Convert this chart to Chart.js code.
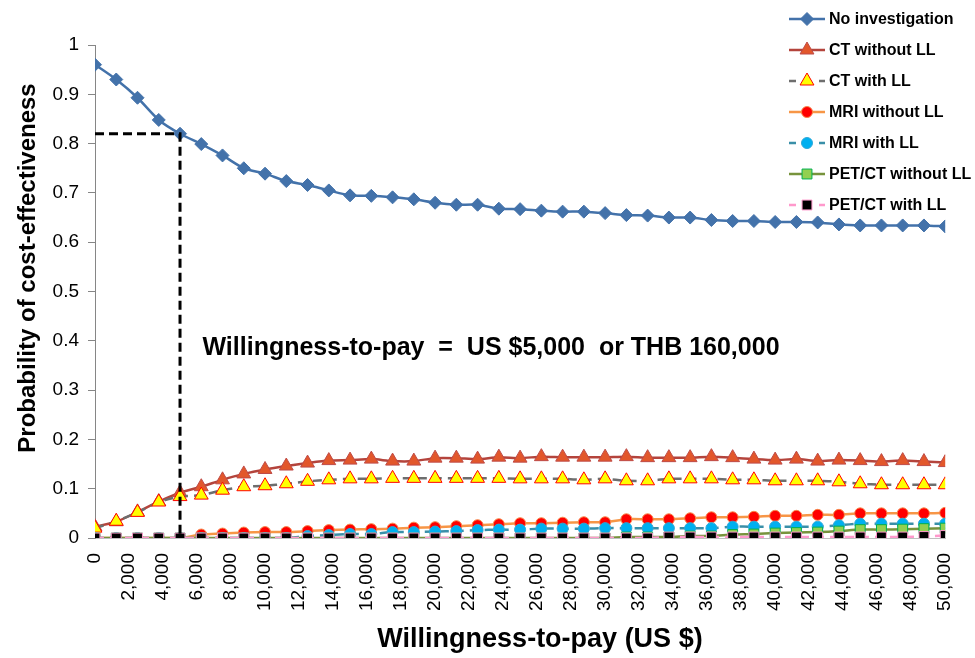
<!DOCTYPE html>
<html>
<head>
<meta charset="utf-8">
<title>Probability of cost-effectiveness</title>
<script src="https://cdn.jsdelivr.net/npm/chart.js@4.4.0/dist/chart.umd.min.js"></script>
<style>
    body { margin: 0; background: #ffffff; }
    canvas { display: block; }
</style>
</head>
<body>
<canvas id="grafica" width="975" height="658"></canvas>
<script type="text/javascript">

    // Willingness-to-pay (US $), one point every THB 40,000
    var wtp = [0, 1250, 2500, 3750, 5000, 6250, 7500, 8750, 10000, 11250,
        12500, 13750, 15000, 16250, 17500, 18750, 20000, 21250, 22500, 23750,
        25000, 26250, 27500, 28750, 30000, 31250, 32500, 33750, 35000, 36250,
        37500, 38750, 40000, 41250, 42500, 43750, 45000, 46250, 47500, 48750, 50000]

    var noInvestigation = [0.960, 0.930, 0.893, 0.848, 0.820, 0.799, 0.776, 0.750, 0.739, 0.724,
        0.716, 0.705, 0.695, 0.694, 0.691, 0.687, 0.680, 0.676, 0.676, 0.668,
        0.667, 0.664, 0.662, 0.662, 0.659, 0.655, 0.654, 0.650, 0.650, 0.645,
        0.643, 0.643, 0.641, 0.641, 0.640, 0.636, 0.634, 0.634, 0.634, 0.634, 0.632]

    var ctWithoutLL = [0.023, 0.033, 0.053, 0.074, 0.092, 0.104, 0.118, 0.130, 0.139, 0.146,
        0.152, 0.157, 0.158, 0.160, 0.156, 0.156, 0.162, 0.162, 0.160, 0.164,
        0.162, 0.165, 0.164, 0.164, 0.164, 0.165, 0.163, 0.163, 0.163, 0.165,
        0.163, 0.160, 0.158, 0.160, 0.156, 0.158, 0.157, 0.155, 0.157, 0.155, 0.153]

    var ctWithLL = [0.020, 0.034, 0.052, 0.073, 0.084, 0.087, 0.097, 0.104, 0.106, 0.110,
        0.115, 0.118, 0.120, 0.120, 0.121, 0.121, 0.121, 0.121, 0.121, 0.121,
        0.120, 0.120, 0.120, 0.118, 0.120, 0.116, 0.116, 0.120, 0.120, 0.120,
        0.118, 0.118, 0.116, 0.116, 0.116, 0.114, 0.110, 0.108, 0.108, 0.108, 0.108]

    var mriWithoutLL = [0, 0, 0, 0, 0, 0.007, 0.009, 0.011, 0.012, 0.012,
        0.014, 0.016, 0.017, 0.018, 0.019, 0.021, 0.022, 0.024, 0.026, 0.028,
        0.030, 0.030, 0.031, 0.032, 0.032, 0.038, 0.038, 0.038, 0.040, 0.042,
        0.042, 0.043, 0.045, 0.045, 0.047, 0.047, 0.050, 0.050, 0.050, 0.050, 0.051]

    var mriWithLL = [0, 0, 0, 0, 0, 0, 0, 0, 0, 0,
        0.004, 0.006, 0.008, 0.008, 0.012, 0.012, 0.013, 0.014, 0.016, 0.017,
        0.017, 0.019, 0.019, 0.019, 0.020, 0.020, 0.020, 0.020, 0.020, 0.020,
        0.023, 0.023, 0.023, 0.023, 0.023, 0.026, 0.029, 0.029, 0.029, 0.029, 0.029]

    var petWithoutLL = [0, 0, 0, 0, 0, 0, 0, 0, 0, 0,
        0, 0, 0, 0, 0, 0, 0, 0, 0, 0,
        0, 0, 0, 0, 0, 0.002, 0.002, 0.002, 0.004, 0.004,
        0.007, 0.008, 0.010, 0.011, 0.012, 0.014, 0.017, 0.017, 0.018, 0.019, 0.020]

    var petWithLL = [0, 0, 0, 0, 0, 0, 0, 0, 0, 0,
        0, 0, 0, 0, 0, 0, 0, 0, 0, 0,
        0, 0, 0, 0, 0, 0, 0, 0.002, 0.002, 0.002,
        0.002, 0.002, 0.002, 0.002, 0.002, 0.002, 0.002, 0.002, 0.002, 0.003, 0.005]

    // Threshold marked on the chart
    var wtpThreshold = 5000
    var probAtThreshold = 0.82

    var xTicksStep = 2000
    var yTicksStep = 0.1

    var fuente = '"Liberation Sans", Arial, sans-serif'

    function puntos(valores) {
        return valores.map((v, i) => ({ x: wtp[i], y: v }))
    }

    function serie(label, valores, linea, relleno, borde, estilo, radio, guiones) {
        return {
            label: label,
            data: puntos(valores),
            borderColor: linea,
            borderWidth: 2.5,
            borderDash: guiones || [],
            backgroundColor: relleno,
            pointBackgroundColor: relleno,
            pointBorderColor: borde,
            pointBorderWidth: 1,
            pointStyle: estilo,
            pointRadius: radio,
            tension: 0.25
        }
    }

    var datasets = [
        serie("No investigation", noInvestigation, "#4372AA", "#4372AA", "#4372AA", "rectRot", 6.5),
        serie("CT without LL", ctWithoutLL, "#B4443C", "#E2572B", "#BE4B48", "triangle", 8),
        serie("CT with LL", ctWithLL, "#6E6E6E", "#FFFF00", "#FF0000", "triangle", 8, [9, 6]),
        serie("MRI without LL", mriWithoutLL, "#F79646", "#FF0000", "#F7864A", "circle", 5.5),
        serie("MRI with LL", mriWithLL, "#3A8FA8", "#00B0F0", "#2FA8D8", "circle", 5.5, [9, 6]),
        serie("PET/CT without LL", petWithoutLL, "#77933C", "#92D050", "#00B050", "rect", 7),
        serie("PET/CT with LL", petWithLL, "#FF99CC", "#000000", "#FF99CC", "rect", 7, [9, 6])
    ]
    // later series are painted on top, as in the original
    datasets.forEach((d, i) => { d.order = datasets.length - i })

    datasets.push({
        label: "umbral",
        data: [{ x: 0, y: probAtThreshold }, { x: wtpThreshold, y: probAtThreshold }, { x: wtpThreshold, y: 0 }],
        borderColor: "#000000",
        borderWidth: 3,
        borderDash: [9, 5],
        pointRadius: 0,
        tension: 0,
        order: 0,
        hideInLegend: true
    })

    var leyenda = {
        id: 'leyenda',
        afterDraw(chart) {
            var ctx = chart.ctx
            var x0 = 789, x1 = 825, top = 19, gap = 31
            chart.data.datasets.forEach((ds, i) => {
                if (ds.hideInLegend) return
                var y = top + i * gap
                ctx.save()
                ctx.strokeStyle = ds.borderColor
                ctx.lineWidth = ds.borderWidth
                ctx.setLineDash(ds.borderDash.length ? [7, 8] : [])
                ctx.beginPath()
                ctx.moveTo(x0, y)
                ctx.lineTo(x1, y)
                ctx.stroke()
                ctx.setLineDash([])
                ctx.fillStyle = ds.pointBackgroundColor
                ctx.strokeStyle = ds.pointBorderColor
                ctx.lineWidth = ds.pointBorderWidth
                Chart.helpers.drawPoint(ctx, {
                    pointStyle: ds.pointStyle,
                    radius: ds.pointRadius,
                    borderWidth: ds.pointBorderWidth,
                    rotation: 0
                }, (x0 + x1) / 2, y)
                ctx.fillStyle = "#000000"
                ctx.font = "bold 16px " + fuente
                ctx.textBaseline = "middle"
                ctx.textAlign = "left"
                ctx.fillText(ds.label, x1 + 4, y + 1)
                ctx.restore()
            })
        }
    }

    var textos = {
        id: 'textos',
        afterDraw(chart) {
            var ctx = chart.ctx
            ctx.save()
            ctx.fillStyle = "#000000"
            ctx.textAlign = "center"
            ctx.textBaseline = "middle"

            ctx.font = "bold 25px " + fuente
            ctx.fillText("Willingness-to-pay  =  US $5,000  or THB 160,000", 491, 348)

            ctx.font = "bold 27px " + fuente
            ctx.fillText("Willingness-to-pay (US $)", 540, 640)

            ctx.translate(28, 268)
            ctx.rotate(-Math.PI / 2)
            ctx.font = "bold 24px " + fuente
            ctx.fillText("Probability of cost-effectiveness", 0, 0)
            ctx.restore()
        }
    }

    var canvas = document.getElementById('grafica')
    var context = canvas.getContext('2d')

    window.linea = new Chart(context, {
        type: "line",
        data: { datasets: datasets },
        options: {
            responsive: false,
            animation: false,
            layout: { padding: { top: 45, right: 28, left: 0, bottom: 0 } },
            plugins: {
                legend: { display: false },
                tooltip: { enabled: false },
                title: { display: false }
            },
            scales: {
                x: {
                    type: "linear",
                    min: 0,
                    max: 50000,
                    afterFit: s => { s.height = 120 },
                    grid: { display: false },
                    border: { display: true, color: "#BFBFBF", width: 1 },
                    ticks: {
                        stepSize: xTicksStep,
                        minRotation: 90,
                        maxRotation: 90,
                        padding: 7,
                        color: "#000000",
                        font: { family: fuente, size: 19 },
                        callback: v => v.toLocaleString("en-US")
                    }
                },
                y: {
                    min: 0,
                    max: 1,
                    afterFit: s => { s.width = 95 },
                    grid: { display: true, drawOnChartArea: false, drawTicks: true, tickLength: 7, color: "#868686" },
                    border: { display: true, color: "#868686", width: 1 },
                    ticks: {
                        stepSize: yTicksStep,
                        padding: 9,
                        color: "#000000",
                        font: { family: fuente, size: 19 },
                        callback: v => Math.round(v * 10) / 10
                    }
                }
            }
        },
        plugins: [leyenda, textos]
    });

</script>
</body>
</html>
